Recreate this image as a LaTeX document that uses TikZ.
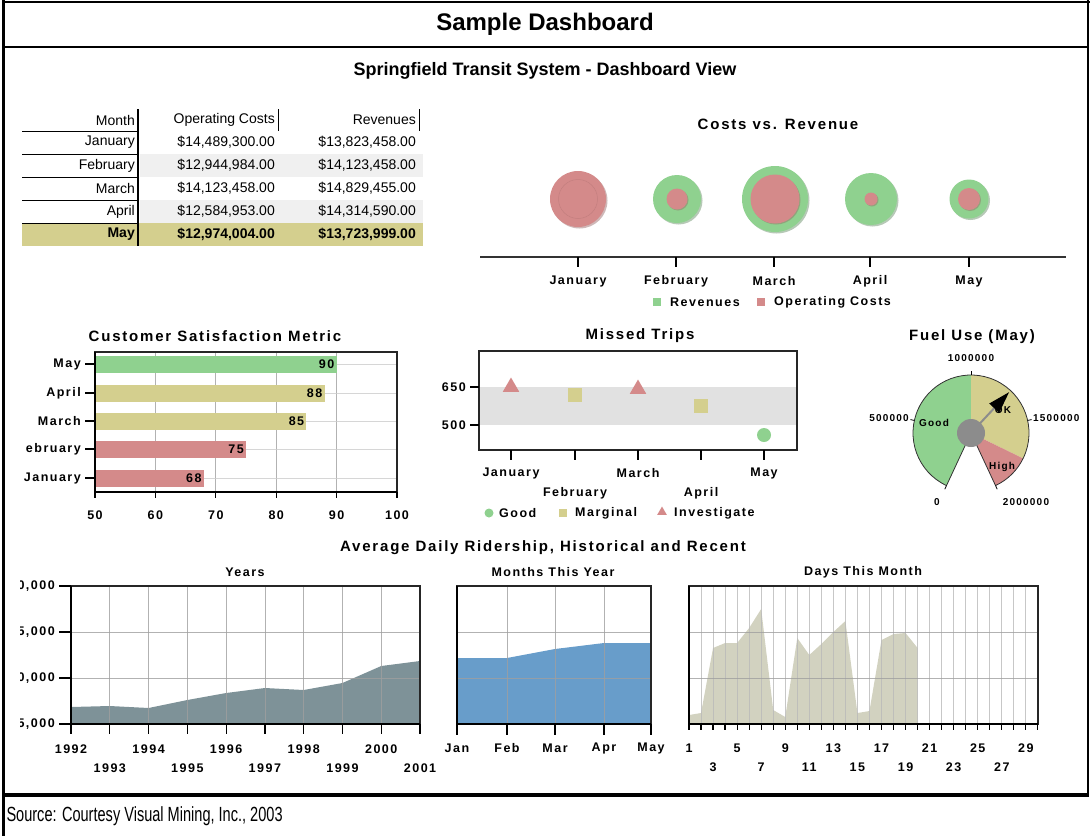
\documentclass[tikz,border=0pt]{standalone}
\usepackage{fontspec}
\setmainfont{Liberation Sans}
\newfontfamily\chartfont[LetterSpace=12]{Liberation Sans}
\usetikzlibrary{shapes.geometric,arrows.meta}

\definecolor{goodgreen}{RGB}{143,209,143}
\definecolor{marginal}{RGB}{212,207,142}
\definecolor{investigate}{RGB}{212,138,138}
\definecolor{bandgray}{RGB}{225,225,225}
\definecolor{rowgray}{RGB}{240,240,240}
\definecolor{hubgray}{RGB}{140,140,140}
\definecolor{slate}{RGB}{126,146,152}
\definecolor{steel}{RGB}{104,157,202}
\definecolor{beige}{RGB}{210,210,192}

\begin{document}
\begin{tikzpicture}[x=1pt,y=-1pt,
  chartlbl/.style={font=\chartfont\bfseries\fontsize{12.5}{14}\selectfont, inner sep=1pt},
  gaugelbl/.style={font=\chartfont\bfseries\fontsize{10}{12}\selectfont, inner sep=1pt},
  charttitle/.style={font=\chartfont\bfseries\fontsize{15}{18}\selectfont},
  tabletext/.style={font=\fontsize{14}{16}\selectfont, anchor=east, inner sep=1pt},
  gridline/.style={gray!75, line width=0.8pt, opacity=0.8},
  frameline/.style={black!85, line width=1.2pt},
  tickline/.style={black, line width=1.2pt}]
\useasboundingbox (0,0) rectangle (1090,836);

% page frame
\draw[line width=3pt] (3,0) -- (3,836);
\draw[line width=2pt] (3,1.5) -- (1090,1.5);
\draw[line width=2pt] (1088,0) -- (1088,797);
\draw[line width=2pt] (3,47) -- (1088,47);
\draw[line width=4pt] (3,795) -- (1088,795);
\node[font=\bfseries\fontsize{24}{28}\selectfont] (maintitle) at (545,24) {Sample Dashboard};
\node[font=\bfseries\fontsize{18}{21}\selectfont] (subtitle) at (545,71) {Springfield Transit System - Dashboard View};
\node[anchor=west, font=\fontsize{20.5}{24}\selectfont, xscale=0.71] (source) at (4,816) {Source: Courtesy Visual Mining, Inc., 2003};

% table
\fill[rowgray] (140,154) rectangle (423,177);
\fill[rowgray] (140,200) rectangle (423,223);
\fill[marginal] (22,223) rectangle (423,246);
\node[tabletext] (hmonth) at (136,120) {Month};
\node[tabletext] (hcost) at (276,120) {Operating Costs};
\node[tabletext] (hrev) at (417,120) {Revenues};
\foreach \m/\cst/\rv [count=\i] in {January/{\$14,489,300.00}/{\$13,823,458.00},
    February/{\$12,944,984.00}/{\$14,123,458.00},
    March/{\$14,123,458.00}/{\$14,829,455.00},
    April/{\$12,584,953.00}/{\$14,314,590.00}}{
  \node[tabletext] (month\i) at (136,{142.5+(\i-1)*23}) {\m};
  \node[tabletext] (cost\i) at (276,{142.5+(\i-1)*23}) {\cst};
  \node[tabletext] (rev\i) at (417,{142.5+(\i-1)*23}) {\rv};
}
\node[tabletext, font=\bfseries\fontsize{14}{16}\selectfont] (month5) at (136,234.5) {May};
\node[tabletext, font=\bfseries\fontsize{14}{16}\selectfont] (cost5) at (276,234.5) {\$12,974,004.00};
\node[tabletext, font=\bfseries\fontsize{14}{16}\selectfont] (rev5) at (417,234.5) {\$13,723,999.00};
\foreach \i in {0,...,4}
  \draw[line width=1pt] (22,{131+\i*23}) -- (138,{131+\i*23});
\draw[line width=1.2pt] (138,109) -- (138,246);
\draw[line width=1pt] (278,109) -- (278,131);
\draw[line width=1pt] (419,109) -- (419,131);

% costs vs revenue
\node[charttitle] (cvrtitle) at (778,124) {Costs vs. Revenue};
\fill[investigate!70!black, opacity=0.45] (579.5,200.5) circle (28);
\fill[investigate] (578,199) circle (28);
\draw[investigate!80!black, line width=0.5pt, opacity=0.4] (578,199) circle (19.5);
\foreach \x/\rg/\rp in {677/24/10.5, 775/33/24.5, 871/26/6.5, 969/19.5/11}{
  \fill[goodgreen!65!black, opacity=0.45] ({\x+1.5},200.5) circle (\rg);
  \fill[goodgreen] (\x,199) circle (\rg);
  \fill[investigate!70!black, opacity=0.4] ({\x+1},200) circle (\rp);
  \fill[investigate] (\x,199) circle (\rp);
}
\draw[black!80, line width=1.5pt] (480,257) -- (1066,257);
\foreach \x/\m [count=\i] in {578/January,676/February,774/March,870/April,969/May}{
  \draw[tickline] (\x,257) -- (\x,267);
  \node[chartlbl] (bub\i) at (\x,281) {\m};
}
\fill[goodgreen] (653,298) rectangle (661,306);
\node[chartlbl, anchor=west] (legrev) at (669,302) {Revenues};
\fill[investigate] (757,298) rectangle (765,306);
\node[chartlbl, anchor=west] (legcost) at (773,302) {Operating Costs};

% customer satisfaction
\node[charttitle] (csmtitle) at (215,336) {Customer Satisfaction Metric};
\foreach \v in {60,70,80,90}
  \draw[gridline] ({95+(\v-50)*6.04},352) -- ({95+(\v-50)*6.04},492);
\foreach \y in {364,393,421,449,478}
  \draw[gridline, gray!40] (95,\y) -- (397,\y);
\foreach \v/\m/\col/\y [count=\i] in {90/May/goodgreen/364, 88/April/marginal/393,
    85/March/marginal/421, 75/ebruary/investigate/449, 68/January/investigate/478}{
  \fill[\col] (95,{\y-8.5}) rectangle ({95+(\v-50)*6.04},{\y+8.5});
  \node[chartlbl, anchor=east] (csval\i) at ({94+(\v-50)*6.04},\y) {\v};
  \draw[tickline] (85,\y) -- (95,\y);
  \node[chartlbl, anchor=east] (cscat\i) at (82,\y) {\m};
}
\draw[frameline] (95,352) rectangle (397,492);
\draw[black, line width=1.5pt] (95,352) -- (95,492) -- (397,492);
\foreach \v in {50,60,...,100}{
  \draw[tickline] ({95+(\v-50)*6.04},492) -- ({95+(\v-50)*6.04},498);
  \node[chartlbl] (csx\v) at ({95+(\v-50)*6.04},515) {\v};
}

% missed trips
\node[charttitle] (mttitle) at (640,336) {Missed Trips};
\fill[bandgray] (479,387) rectangle (797,425);
\draw[frameline] (479,351) rectangle (797,450);
\foreach \y/\v in {387/650,425/500}{
  \draw[tickline] (470,\y) -- (479,\y);
  \node[chartlbl, anchor=east] (mty\v) at (467,\y) {\v};
}
\foreach \x/\m/\y [count=\i] in {511/January/473,575/February/493,638/March/473,701/April/493,764/May/473}{
  \draw[tickline] (\x,450) -- (\x,460);
  \node[chartlbl] (mtx\i) at (\x,\y) {\m};
}
\node[regular polygon, regular polygon sides=3, fill=investigate, inner sep=0, minimum size=19pt] (mtjan) at (511,387) {};
\node[rectangle, fill=marginal, inner sep=0, minimum size=14pt] (mtfeb) at (575,395) {};
\node[regular polygon, regular polygon sides=3, fill=investigate, inner sep=0, minimum size=19pt] (mtmar) at (638,389) {};
\node[rectangle, fill=marginal, inner sep=0, minimum size=14pt] (mtapr) at (701,406) {};
\node[circle, fill=goodgreen, inner sep=0, minimum size=14pt] (mtmay) at (764,435) {};
\node[circle, fill=goodgreen, inner sep=0, minimum size=9pt] (leggood) at (489,513) {};
\node[chartlbl, anchor=west] (lgood) at (498,513) {Good};
\node[rectangle, fill=marginal, inner sep=0, minimum size=8pt] (legmarg) at (563,513) {};
\node[chartlbl, anchor=west] (lmarg) at (574,513) {Marginal};
\node[regular polygon, regular polygon sides=3, fill=investigate, inner sep=0, minimum size=11pt] (leginv) at (662,512) {};
\node[chartlbl, anchor=west] (linv) at (673,513) {Investigate};

% fuel gauge
\node[charttitle] (fueltitle) at (972,337) {Fuel Use (May)};
\begin{scope}[shift={(971,433)}, y=1pt]
  \fill[goodgreen] (0,0) -- (245:58) arc[start angle=245, end angle=90, radius=58] -- cycle;
  \fill[marginal] (0,0) -- (90:58) arc[start angle=90, end angle=-26, radius=58] -- cycle;
  \fill[investigate] (0,0) -- (-26:58) arc[start angle=-26, end angle=-65, radius=58] -- cycle;
  \draw[black!80, line width=0.8pt] (0,0) -- (245:58) arc[start angle=245, end angle=-65, radius=58] -- cycle;
  \foreach \a in {245,167.5,90,12.5,-65}
    \draw[line width=0.8pt] (\a:58) -- (\a:62);
  \fill[hubgray] (0,0) circle (14);
  \draw[hubgray, line width=2pt, -{Triangle[color=black, length=22pt, width=13pt]}] (0,0) -- (47:56);
  \node[gaugelbl] (g1000) at (0,75) {1000000};
  \node[gaugelbl, anchor=east] (g500) at (-61,15) {500000};
  \node[gaugelbl, anchor=west] (g1500) at (61,15) {1500000};
  \node[gaugelbl] (g0) at (-34,-69) {0};
  \node[gaugelbl] (g2000) at (55,-69) {2000000};
  \node[gaugelbl] (ggood) at (-37,10) {Good};
  \node[gaugelbl] (gok) at (32,23) {OK};
  \node[gaugelbl] (ghigh) at (31,-34) {High};
\end{scope}

% ridership
\node[charttitle] (ridetitle) at (543,548) {Average Daily Ridership, Historical and Recent};

% years
\node[chartlbl] (yearstitle) at (245,572) {Years};
\fill[slate] (71,724) \foreach \v [count=\i from 0] in {707,706,708,700,693,688,690,683,666,661}{
  -- ({71+\i*38.78},\v)} -- (420,724) -- cycle;
\foreach \i in {1,...,8}
  \draw[gridline] ({71+\i*38.78},586) -- ({71+\i*38.78},724);
\foreach \y in {632,678}
  \draw[gridline] (71,\y) -- (420,\y);
\draw[frameline] (71,586) rectangle (420,724);
\draw[black, line width=1.5pt] (71,586) -- (71,724) -- (420,724);
\foreach \yr [count=\i from 0] in {1992,...,2001}{
  \pgfmathsetmacro{\ly}{ifthenelse(mod(\i,2)==0,749,768)}
  \draw[tickline] ({71+\i*38.78},724) -- ({71+\i*38.78},734);
  \node[chartlbl] (yr\yr) at ({71+\i*38.78},\ly) {\yr};
}
\begin{scope}
  \clip (20,570) rectangle (72,740);
  \foreach \y/\v [count=\i] in {586/0,632/5,678/0,724/5}{
    \draw[tickline] (59,\y) -- (71,\y);
    \node[chartlbl, anchor=east] (ylab\i) at (56,\y) {\v,000};
  }
\end{scope}

% months
\node[chartlbl] (monthstitle) at (553,572) {Months This Year};
\fill[steel] (457,724) -- (457,658) -- (507,658) -- (555,649) -- (604,643) -- (651,643) -- (651,724) -- cycle;
\foreach \x in {507,555,604}
  \draw[gridline] (\x,586) -- (\x,724);
\foreach \y in {632,678}
  \draw[gridline] (457,\y) -- (651,\y);
\draw[frameline] (457,586) rectangle (651,724);
\draw[black, line width=1.5pt] (457,586) -- (457,724) -- (651,724);
\foreach \x/\m in {457/Jan,507/Feb,555/Mar,604/Apr,651/May}{
  \draw[tickline] (\x,724) -- (\x,735);
  \node[chartlbl] (mo\m) at (\x,748) {\m};
}

% days
\node[chartlbl] (daystitle) at (863,572) {Days This Month};
\fill[beige] (689,724) \foreach \d/\v in {1/715,2/713,3/648,4/643,5/643,6/628,7/609,8/710,9/717,10/638,
    11/655,12/644,13/632,14/621,15/713,16/711,17/640,18/634,19/633,20/648}{
  -- ({689+(\d-1)*12.03},\v)} -- (917.57,724) -- cycle;
\foreach \d in {2,...,29}
  \draw[gridline, gray!55] ({689+(\d-1)*12.03},586) -- ({689+(\d-1)*12.03},724);
\foreach \y in {632,678}
  \draw[gridline] (689,\y) -- (1038,\y);
\draw[frameline] (689,586) rectangle (1038,724);
\draw[black, line width=1.5pt] (689,586) -- (689,724) -- (1038,724);
\foreach \d in {1,...,30}
  \draw[tickline] ({689+(\d-1)*12.03},724) -- ({689+(\d-1)*12.03},730);
\foreach \d in {1,5,...,29}
  \node[chartlbl] (day\d) at ({689+(\d-1)*12.03},748) {\d};
\foreach \d in {3,7,...,27}
  \node[chartlbl] (day\d) at ({689+(\d-1)*12.03},767) {\d};
\end{tikzpicture}
\end{document}
